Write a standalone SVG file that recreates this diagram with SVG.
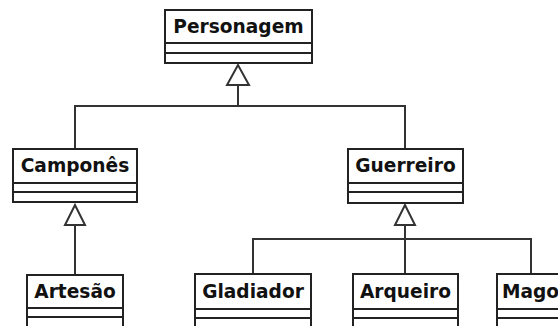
<svg xmlns="http://www.w3.org/2000/svg" width="558" height="326" viewBox="0 0 558 326">
  <style>
    .box { fill: #fff; stroke: #222; stroke-width: 2; }
    .sep { stroke: #222; stroke-width: 2; fill: none; }
    .name { font-family: "DejaVu Sans", sans-serif; font-weight: bold; font-size: 18.6px; fill: #111; text-anchor: middle; }
    .edge { stroke: #333; stroke-width: 2; fill: none; }
    .tri { fill: #fff; stroke: #333; stroke-width: 2; }
  </style>
  <rect width="558" height="326" fill="#fff"/>

  <!-- inheritance connectors -->
  <g id="connectors">
    <path class="edge" d="M238 85 V106 M75 149 V106 H405 V149"/>
    <polygon class="tri" points="238,65 227,85 249,85"/>
    <path class="edge" d="M75 225 V275"/>
    <polygon class="tri" points="75,205 65,225 85,225"/>
    <path class="edge" d="M405 225 V274 M253 274 V239 H531 V274"/>
    <polygon class="tri" points="405,205 395,225 415,225"/>
  </g>

  <g id="personagem">
    <rect class="box" x="165" y="10" width="147" height="53"/>
    <path class="sep" d="M165 43 H312 M165 53 H312"/>
    <text class="name" x="238.5" y="33">Personagem</text>
  </g>

  <g id="campones">
    <rect class="box" x="13" y="149" width="124" height="53"/>
    <path class="sep" d="M13 183 H137 M13 192 H137"/>
    <text class="name" x="75" y="172">Camponês</text>
  </g>

  <g id="guerreiro">
    <rect class="box" x="348" y="149" width="115" height="54"/>
    <path class="sep" d="M348 183 H463 M348 192 H463"/>
    <text class="name" x="405.5" y="172">Guerreiro</text>
  </g>

  <g id="artesao">
    <rect class="box" x="27" y="275" width="96" height="60"/>
    <path class="sep" d="M27 308 H123 M27 317 H123"/>
    <text class="name" x="75" y="298">Artesão</text>
  </g>

  <g id="gladiador">
    <rect class="box" x="195" y="274" width="116" height="60"/>
    <path class="sep" d="M195 309 H311 M195 318 H311"/>
    <text class="name" x="253" y="298">Gladiador</text>
  </g>

  <g id="arqueiro">
    <rect class="box" x="353" y="274" width="105" height="60"/>
    <path class="sep" d="M353 309 H458 M353 318 H458"/>
    <text class="name" x="405.5" y="298">Arqueiro</text>
  </g>

  <g id="mago">
    <rect class="box" x="497" y="274" width="70" height="60"/>
    <path class="sep" d="M497 309 H567 M497 318 H567"/>
    <text class="name" x="502" y="298" style="text-anchor:start">Mago</text>
  </g>
</svg>
